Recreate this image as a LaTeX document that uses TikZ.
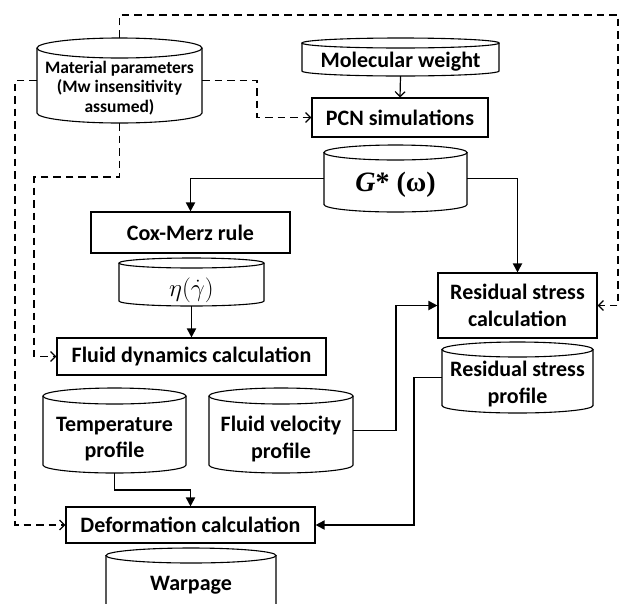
\documentclass[tikz,border=0pt]{standalone}
\usepackage{fontspec}
\setmainfont{Carlito}
\newfontfamily\tnrfont{Liberation Serif}
\usetikzlibrary{arrows.meta,calc}
\tikzset{
  boxline/.style={draw=black,line width=1.1pt},
  procbox/.style={boxline,rectangle,inner sep=0pt,font=\fontsize{22}{26.5}\selectfont\bfseries},
  cylbody/.style={draw=none,rectangle,inner sep=0pt},
  cyltext/.style={align=center,inner sep=0pt,font=\fontsize{22}{26.5}\selectfont\bfseries},
  smalltext/.style={font=\fontsize{17.5}{19.5}\selectfont\bfseries},
  gtext/.style={font=\fontsize{28}{30}\selectfont\tnrfont\bfseries},
  mathtext/.style={font=\fontsize{23}{24}\selectfont},
  flow/.style={line width=1.8pt,-{Triangle[length=9pt,width=9pt]}},
  thinflow/.style={line width=1.2pt,-{Straight Barb[length=5pt,width=10pt,line width=1.2pt]}},
  dflow/.style={line width=1.3pt,dash pattern=on 7.5pt off 5pt,-{Straight Barb[length=5pt,width=10pt,line width=1.3pt]}},
}
% name, x1, y1, x2, y2, ry, text y, extra text style, text
\newcommand\mycyl[9]{%
  \node[cylbody,minimum width={(#4-#2)*1pt},minimum height={(#5-#3)*1pt}] (#1) at ({(#2+#4)/2},{-(#3+#5)/2}) {};
  \draw[boxline] (#2,{-(#3+#6)}) -- (#2,{-(#5-#6)}) arc[start angle=180,end angle=360,x radius={(#4-#2)/2},y radius=#6] -- (#4,{-(#3+#6)});
  \draw[boxline] ({(#2+#4)/2},{-(#3+#6)}) ellipse[x radius={(#4-#2)/2},y radius=#6];
  \node[cyltext,#8] (#1-t) at ({(#2+#4)/2},-#7) {#9};
}
% name, x1, y1, x2, y2, text
\newcommand\mybox[6]{%
  \node[procbox,align=center,minimum width={(#4-#2)*1pt},minimum height={(#5-#3)*1pt}] (#1) at ({(#2+#4)/2},{-(#3+#5)/2}) {#6};
}
\begin{document}
\begin{tikzpicture}[x=1pt,y=1pt]
\path[use as bounding box,clip] (0,0) rectangle (620,-603);
\fill[white] (0,0) rectangle (620,-603);

\mycyl{mat}{37}{38}{202}{123}{10}{88}{smalltext}{Material parameters\\(Mw insensitivity\\assumed)}
\mycyl{mw}{302}{38}{499}{76}{5}{62}{}{Molecular weight}
\mybox{pcn}{312}{98}{488}{137}{PCN simulations}
\mycyl{gstar}{324}{145}{467}{212}{7.5}{185}{gtext}{{\itshape G}* (ω)}
\mybox{cox}{91}{212}{290}{253}{Cox-Merz rule}
\mycyl{eta}{119}{258}{264}{306}{5}{290}{mathtext}{$\eta(\dot{\gamma})$}
\mybox{fd}{57}{338}{326}{375}{Fluid dynamics calculation}
\mybox{rsc}{438}{273}{597}{338}{Residual stress\\calculation}
\mycyl{rsp}{442}{342}{593}{413}{7.5}{384}{}{Residual stress\\profile}
\mycyl{temp}{43}{388}{186}{473}{8}{439}{}{Temperature\\profile}
\mycyl{fv}{209}{388}{353}{473}{8}{439}{}{Fluid velocity\\profile}
\mybox{def}{66}{507}{315}{543}{Deformation calculation}
\mycyl{warp}{106}{548}{276}{614}{7.5}{585}{}{Warpage}

% solid connectors
\draw[thinflow] (mw.south) -- (pcn.north);
\draw[flow] (gstar.west) -| (cox.north);
\draw[flow] (gstar.east) -| (rsc.north);
\draw[flow] (eta.south) -- (fd.north);
\draw[flow] (temp.south) |- ($(temp.south)!0.5!(def.north -| temp.south)$) -| (def.north);
\coordinate (fvbend) at (396,0);
\draw[flow] (fv.east) -| (fvbend |- rsc.west) -- (rsc.west);
\coordinate (rspbend) at (414,0);
\draw[flow] (rsp.west) -| (rspbend |- def.east) -- (def.east);

% dashed connectors
\coordinate (topline) at (0,-15);
\coordinate (rightline) at (618,0);
\draw[dflow] (mat.north) -- (mat.north |- topline) -| (rightline |- rsc.east) -- (rsc.east);
\coordinate (leftline) at (15,0);
\draw[dflow] (mat.west) -| (leftline |- def.west) -- (def.west);
\coordinate (midbend) at (257,0);
\draw[dflow] (mat.east) -| (midbend |- pcn.west) -- (pcn.west);
\coordinate (lowline) at (0,-177);
\coordinate (leftline2) at (34,0);
\draw[dflow] (mat.south) -- (mat.south |- lowline) -| (leftline2 |- fd.west) -- (fd.west);
\end{tikzpicture}
\end{document}
